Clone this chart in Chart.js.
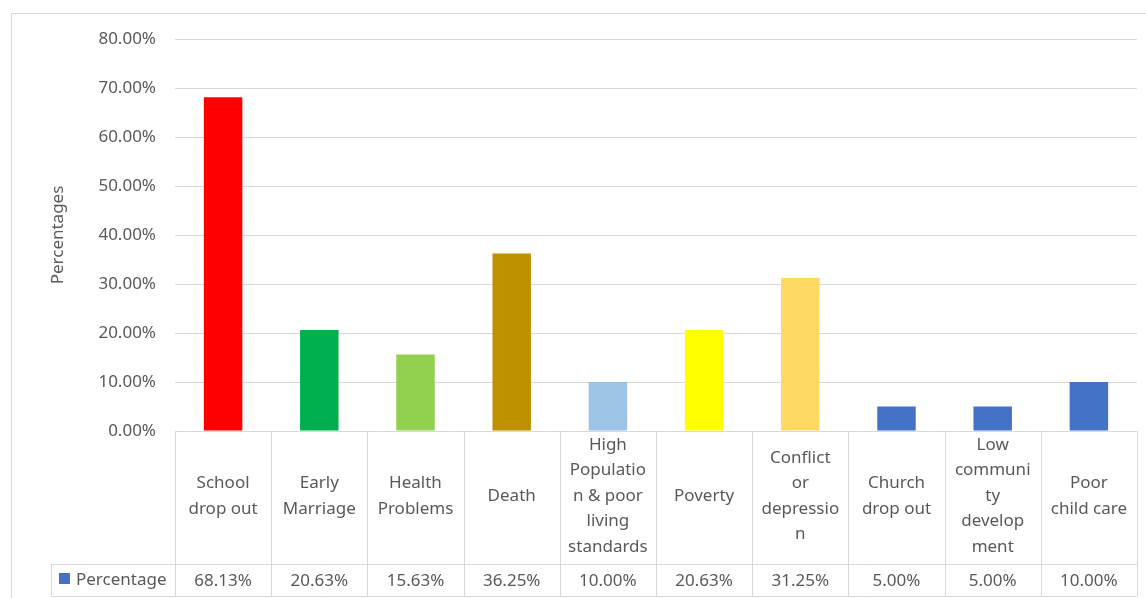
<!DOCTYPE html>
<html>
<head>
<meta charset="utf-8">
<script src="https://cdn.jsdelivr.net/npm/chart.js"></script>
<style>
  html, body { margin: 0; padding: 0; background: #fff; }
  #wrap { position: relative; width: 1146px; height: 598px; }
</style>
</head>
<body>
<div id="wrap"><canvas id="barChart"></canvas></div>
<script>
// chart values
const categories = [
  ['School', 'drop out'],
  ['Early', 'Marriage'],
  ['Health', 'Problems'],
  ['Death'],
  ['High', 'Populatio', 'n & poor', 'living', 'standards'],
  ['Poverty'],
  ['Conflict', 'or', 'depressio', 'n'],
  ['Church', 'drop out'],
  ['Low', 'communi', 'ty', 'develop', 'ment'],
  ['Poor', 'child care']
];
const percentages = [68.13, 20.63, 15.63, 36.25, 10.00, 20.63, 31.25, 5.00, 5.00, 10.00];
const barColors = ['#FF0000', '#00B050', '#92D050', '#BF9000', '#9DC3E6',
                   '#FFFF00', '#FFD966', '#4472C4', '#4472C4', '#4472C4'];
const seriesName = 'Percentage';
const seriesColor = '#4472C4';
const yMax = 80;
const yStep = 10;

const FONT = 'Noto Sans';
const TEXT = '#595959';
const LINE = '#d9d9d9';

// draws the outer frame and the Excel-style data table under the bars
const dataTablePlugin = {
  id: 'dataTable',
  beforeDraw(chart) {
    const ctx = chart.ctx;
    ctx.save();
    ctx.strokeStyle = LINE;
    ctx.lineWidth = 1;
    ctx.strokeRect(11.5, 13.5, chart.width, chart.height);
    ctx.restore();
  },
  afterDraw(chart) {
    const ctx = chart.ctx;
    const x = chart.scales.x;
    const area = chart.chartArea;
    const half = (x.getPixelForValue(1) - x.getPixelForValue(0)) / 2;
    const top = area.bottom;
    const mid = top + 133;
    const bottom = top + 165;
    const legendLeft = 51;

    ctx.save();
    ctx.strokeStyle = LINE;
    ctx.lineWidth = 1;
    ctx.beginPath();
    // horizontal rules
    ctx.moveTo(area.left, top + 0.5); ctx.lineTo(area.right, top + 0.5);
    ctx.moveTo(legendLeft, mid + 0.5); ctx.lineTo(area.right, mid + 0.5);
    ctx.moveTo(legendLeft, bottom + 0.5); ctx.lineTo(area.right, bottom + 0.5);
    // legend cell left edge
    ctx.moveTo(legendLeft + 0.5, mid); ctx.lineTo(legendLeft + 0.5, bottom);
    // column edges
    for (let i = 0; i <= categories.length; i++) {
      const px = Math.round(x.getPixelForValue(i) - half) + 0.5;
      ctx.moveTo(px, top); ctx.lineTo(px, bottom);
    }
    ctx.stroke();

    ctx.fillStyle = TEXT;
    ctx.font = '17px "' + FONT + '"';
    ctx.textAlign = 'center';
    ctx.textBaseline = 'middle';
    const lh = 25.5;
    const labelCenter = top + 65;
    categories.forEach((lines, i) => {
      const cx = x.getPixelForValue(i);
      const y0 = labelCenter - (lines.length - 1) * lh / 2;
      lines.forEach((t, j) => ctx.fillText(t, cx, y0 + j * lh));
      ctx.fillText(percentages[i].toFixed(2) + '%', cx, (mid + bottom) / 2 + 1);
    });

    // legend key
    ctx.fillStyle = seriesColor;
    ctx.fillRect(59, mid + 9, 11, 11);
    ctx.fillStyle = TEXT;
    ctx.textAlign = 'left';
    ctx.fillText(seriesName, 76, (mid + bottom) / 2);
    ctx.restore();
  }
};

const barConfig = {
  type: 'bar',
  data: {
    labels: categories.map(c => c.join(' ')),
    datasets: [{
      label: seriesName,
      data: percentages,
      backgroundColor: barColors,
      borderWidth: 0,
      categoryPercentage: 1,
      barPercentage: 0.4
    }]
  },
  options: {
    responsive: true,
    maintainAspectRatio: false,
    animation: false,
    layout: {
      padding: { left: 44, right: 9, top: 39, bottom: 159 }
    },
    plugins: {
      legend: { display: false },
      tooltip: { enabled: false }
    },
    scales: {
      x: {
        grid: { display: false },
        border: { display: false },
        ticks: { display: false }
      },
      y: {
        min: 0,
        max: yMax,
        afterFit(scale) { scale.width = 131; },
        ticks: {
          stepSize: yStep,
          padding: 19,
          color: TEXT,
          font: { family: FONT, size: 17 },
          callback: v => v.toFixed(2) + '%'
        },
        grid: { color: LINE, drawTicks: false },
        border: { display: false },
        title: {
          display: true,
          text: 'Percentages',
          color: TEXT,
          font: { family: FONT, size: 17 },
          padding: 4
        }
      }
    }
  },
  plugins: [dataTablePlugin]
};

const myBarChart = new Chart(document.getElementById('barChart'), barConfig);
</script>
</body>
</html>
